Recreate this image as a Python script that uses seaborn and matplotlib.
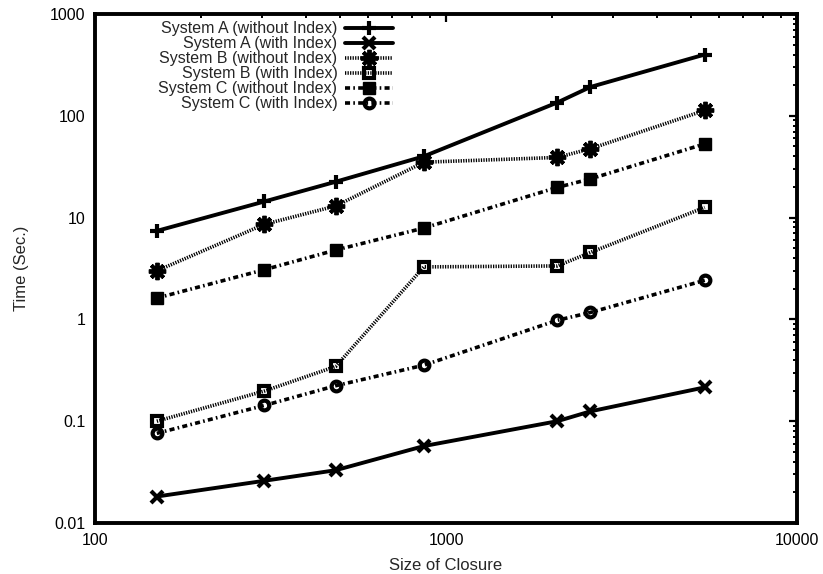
"""Closure computation time per system, log-log line chart."""

import matplotlib
matplotlib.use("Agg")
import matplotlib.pyplot as plt
from matplotlib.ticker import FixedLocator, FixedFormatter, LogLocator, NullFormatter
import seaborn as sns

# data
closure_sizes = [150, 304, 485, 865, 2075, 2580, 5460]
sys_a_no_idx = [7.4, 14.4, 22.5, 40, 135, 192, 400]
sys_a_idx = [0.0182, 0.026, 0.033, 0.057, 0.1, 0.125, 0.215]
sys_b_no_idx = [3.0, 8.6, 13.0, 35, 39, 47.5, 113]
sys_b_idx = [0.1, 0.198, 0.345, 3.28, 3.35, 4.55, 12.6]
sys_c_no_idx = [1.62, 3.08, 4.8, 7.9, 19.8, 24, 53]
sys_c_idx = [0.076, 0.143, 0.223, 0.355, 0.98, 1.17, 2.42]

series_labels = [
    "System A (without Index)",
    "System A (with Index)",
    "System B (without Index)",
    "System B (with Index)",
    "System C (without Index)",
    "System C (with Index)",
]
y_ticks = [0.01, 0.1, 1, 10, 100, 1000]
y_tick_labels = ["0.01", "0.1", "1", "10", "100", "1000"]
x_ticks = [100, 1000, 10000]
x_tick_labels = ["100", "1000", "10000"]

sns.set_theme(style="white")
plt.rcParams["font.family"] = ["Liberation Sans", "DejaVu Sans"]

fig = plt.figure(figsize=(8.23, 5.74), dpi=100)
ax = fig.add_axes([95 / 823, 1 - 523 / 574, (797 - 95) / 823, (523 - 14) / 574])

dotted = (0.35, 0.35)
dashdot = (1.4, 0.9, 0.45, 0.9)
styles = [
    dict(marker="+", ms=10, mew=3, lw=2.8, mfc="black"),
    dict(marker="x", ms=8, mew=3, lw=2.8, mfc="black"),
    dict(marker=(8, 2, 0), ms=12.5, mew=2.8, lw=2.6, dashes=dotted, mfc="black"),
    dict(marker="s", ms=7.5, mew=3, lw=2.6, dashes=dotted, mfc="none"),
    dict(marker="s", ms=8.5, mew=1, lw=2.6, dashes=dashdot, mfc="black"),
    dict(marker="o", ms=7, mew=3, lw=2.6, dashes=dashdot, mfc="none"),
]
all_series = [sys_a_no_idx, sys_a_idx, sys_b_no_idx, sys_b_idx, sys_c_no_idx, sys_c_idx]

for vals, label, st in zip(all_series, series_labels, styles):
    st = dict(st)
    dashes = st.pop("dashes", None)
    sns.lineplot(x=closure_sizes, y=vals, ax=ax, color="black", label=label,
                 sort=False, mec="black", **st)
    if dashes is not None:
        ax.lines[-1].set_dashes(dashes)

ax.set_xscale("log")
ax.set_yscale("log")
ax.set_xlim(100, 10000)
ax.set_ylim(0.01, 1000)

ax.xaxis.set_major_locator(FixedLocator(x_ticks))
ax.xaxis.set_major_formatter(FixedFormatter(x_tick_labels))
ax.yaxis.set_major_locator(FixedLocator(y_ticks))
ax.yaxis.set_major_formatter(FixedFormatter(y_tick_labels))
ax.xaxis.set_minor_locator(LogLocator(base=10, subs=range(2, 10)))
ax.yaxis.set_minor_locator(LogLocator(base=10, subs=range(2, 10)))
ax.xaxis.set_minor_formatter(NullFormatter())
ax.yaxis.set_minor_formatter(NullFormatter())

ax.tick_params(which="major", direction="in", length=6, width=1.6,
               top=True, right=True, labelsize=11.5, colors="black", pad=7)
ax.tick_params(which="minor", direction="in", length=3, width=1.4,
               top=True, right=True, colors="black")
ax.tick_params(axis="y", pad=7)

for sp in ax.spines.values():
    sp.set_linewidth(2.8)
    sp.set_color("black")

ax.set_xlabel("Size of Closure", fontsize=12, labelpad=7.5)
ax.set_ylabel("Time (Sec.)", fontsize=12, labelpad=15)

# labels on the left, samples on the right; matplotlib right-aligns them then
ax.legend(loc="upper right", bbox_to_anchor=(0.425, 0.986), frameon=False,
          markerfirst=False, fontsize=11.5, labelspacing=0.0,
          handlelength=3.0, handletextpad=0.5, borderpad=0, borderaxespad=0)

fig.savefig("out.png", dpi=100)
plt.close(fig)
